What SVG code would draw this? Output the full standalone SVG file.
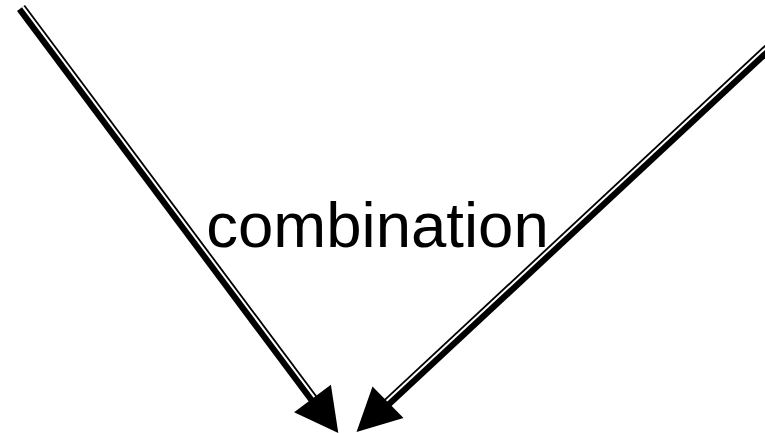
<svg xmlns="http://www.w3.org/2000/svg" width="765" height="433" viewBox="0 0 765 433">
  <style>
    .band { stroke: #000; stroke-width: 10; stroke-linecap: butt; fill: none; }
    .gap { stroke: #fff; stroke-width: 2; stroke-linecap: butt; fill: none; }
    .head { fill: #000; stroke: none; }
    .label { font-family: "Liberation Sans", Arial, sans-serif; font-size: 63.5px; fill: #000; }
  </style>
  <rect width="765" height="433" fill="#fff"/>
  <g id="connectors">
    <!-- left double-line arrow -->
    <g id="arrow-left">
      <line class="band" x1="21" y1="8" x2="315" y2="401.5"/>
      <line class="gap" x1="22.76" y1="6.68" x2="316.7" y2="400.2"/>
      <polygon class="head" points="338.3,433 330.9,384.7 294.1,412.3"/>
    </g>
    <!-- right double-line arrow -->
    <g id="arrow-right">
      <line class="band" x1="772" y1="45" x2="386" y2="404.4"/>
      <line class="gap" x1="770.5" y1="43.4" x2="384.5" y2="402.8"/>
      <polygon class="head" points="356.5,432 403.5,418 372.5,386.5"/>
    </g>
  </g>
  <g id="label-combination">
    <text class="label" x="377.5" y="247" text-anchor="middle">combination</text>
  </g>
</svg>
